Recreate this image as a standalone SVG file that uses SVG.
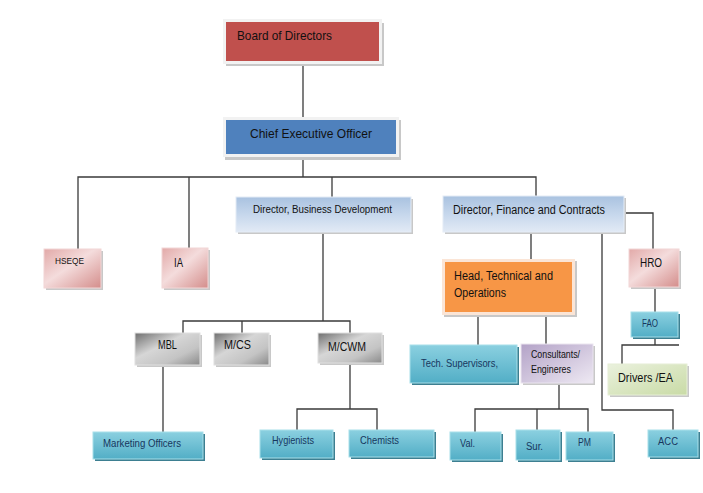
<svg xmlns="http://www.w3.org/2000/svg" width="703" height="493" viewBox="0 0 703 493">
<defs>
<linearGradient id="gBlue" x1="0" y1="0" x2="0" y2="1"><stop offset="0" stop-color="#a9c2e0"/><stop offset="0.5" stop-color="#c6d7ec"/><stop offset="1" stop-color="#e2eaf5"/></linearGradient>
<linearGradient id="gPink" x1="0" y1="0" x2="1" y2="1"><stop offset="0" stop-color="#e2a9a8"/><stop offset="0.45" stop-color="#f4dcdc"/><stop offset="1" stop-color="#d48d8b"/></linearGradient>
<linearGradient id="gGray" x1="0" y1="0" x2="1" y2="1"><stop offset="0" stop-color="#6f6f6f"/><stop offset="0.4" stop-color="#d6d6d6"/><stop offset="0.7" stop-color="#c4c4c4"/><stop offset="1" stop-color="#8a8a8a"/></linearGradient>
<linearGradient id="gTeal" x1="0" y1="0" x2="0" y2="1"><stop offset="0" stop-color="#8bd0e0"/><stop offset="1" stop-color="#52aec6"/></linearGradient>
<linearGradient id="gLav" x1="0" y1="0" x2="1" y2="1"><stop offset="0" stop-color="#b3a2c7"/><stop offset="1" stop-color="#eee9f3"/></linearGradient>
<linearGradient id="gGreen" x1="0" y1="0" x2="1" y2="1"><stop offset="0" stop-color="#eaf1dd"/><stop offset="1" stop-color="#c9dba6"/></linearGradient>
</defs>
<style>
text{font-family:"Liberation Sans",Arial,sans-serif;fill:#111;}
.sh{fill:#c8c8c8;}
.tsh{fill:#3d7f91;}
.teal{fill:url(#gTeal);stroke:#a8dfe9;stroke-width:1;}
.blue{fill:url(#gBlue);stroke:#e4ecf6;stroke-width:1;}
.pink{fill:url(#gPink);stroke:#f2d6d6;stroke-width:1;}
.gray{fill:url(#gGray);stroke:#e0e0e0;stroke-width:1;}
.tt{fill:#17375e;}
.c path,.c line{stroke:#3a3a3a;stroke-width:1.3;fill:none;}
</style>
<rect width="703" height="493" fill="#ffffff"/>
<g class="c" id="connectors">
<line x1="303" y1="63" x2="303" y2="117"/>
<line x1="303" y1="157" x2="303" y2="177"/>
<path d="M78 249V177H536V196"/>
<line x1="189" y1="177" x2="189" y2="249"/>
<line x1="332" y1="177" x2="332" y2="197"/>
<path d="M323 232V321"/>
<path d="M183 333V321H350V333"/>
<line x1="242" y1="321" x2="242" y2="333"/>
<line x1="163" y1="365" x2="163" y2="432"/>
<path d="M350 363V409"/>
<path d="M297 430V409H377V430"/>
<line x1="531" y1="232" x2="531" y2="259"/>
<path d="M624 213H653V249"/>
<path d="M602 232V410H673V430"/>
<line x1="655" y1="287" x2="655" y2="312"/>
<path d="M655 337V345"/>
<path d="M622 364V345H679"/>
<line x1="478" y1="315" x2="478" y2="345"/>
<line x1="546" y1="315" x2="546" y2="344"/>
<path d="M559 383V409"/>
<path d="M475 432V409H588V432"/>
<line x1="537" y1="409" x2="537" y2="430"/>
</g>
<g id="board">
<rect class="sh" x="226" y="23" width="158" height="43"/>
<rect x="224.5" y="20.5" width="156" height="42" fill="#c0504d" stroke="#f2f2f2" stroke-width="3"/>
<text x="237" y="40" font-size="13" textLength="95" lengthAdjust="spacingAndGlyphs">Board of Directors</text>
</g>
<g id="ceo">
<rect class="sh" x="225" y="120" width="176" height="40"/>
<rect x="224.5" y="118.5" width="173" height="37" fill="#4f81bd" stroke="#f2f2f2" stroke-width="3"/>
<text x="250" y="138" font-size="13.5" textLength="122" lengthAdjust="spacingAndGlyphs">Chief Executive Officer</text>
</g>
<g id="dir-bd">
<rect class="sh" x="238" y="199" width="175" height="35"/>
<rect class="blue" x="236" y="197" width="175" height="35"/>
<text x="253" y="213" font-size="11.5" textLength="139" lengthAdjust="spacingAndGlyphs">Director, Business Development</text>
</g>
<g id="dir-fc">
<rect class="sh" x="445" y="198" width="181" height="36"/>
<rect class="blue" x="443" y="196" width="181" height="36"/>
<text x="453" y="214" font-size="12.5" textLength="152" lengthAdjust="spacingAndGlyphs">Director, Finance and Contracts</text>
</g>
<g id="hseqe">
<rect class="sh" x="46" y="251" width="57" height="39"/>
<rect class="pink" x="44" y="249" width="57" height="39"/>
<text x="55" y="264" font-size="9.5" textLength="29" lengthAdjust="spacingAndGlyphs">HSEQE</text>
</g>
<g id="ia">
<rect class="sh" x="164" y="250" width="46" height="40"/>
<rect class="pink" x="162" y="248" width="46" height="40"/>
<text x="174" y="267" font-size="13" textLength="9" lengthAdjust="spacingAndGlyphs">IA</text>
</g>
<g id="hro">
<rect class="sh" x="631" y="251" width="50" height="38"/>
<rect class="pink" x="629" y="249" width="50" height="38"/>
<text x="640" y="267" font-size="12" textLength="22" lengthAdjust="spacingAndGlyphs">HRO</text>
</g>
<g id="head-tech">
<rect class="sh" x="444" y="261" width="133" height="56"/>
<rect x="443.5" y="260.5" width="130" height="53" fill="#f79646" stroke="#fbe5d6" stroke-width="3"/>
<text x="454" y="280" font-size="12.5" textLength="99" lengthAdjust="spacingAndGlyphs">Head, Technical and</text>
<text x="454" y="297" font-size="12.5" textLength="52" lengthAdjust="spacingAndGlyphs">Operations</text>
</g>
<g id="mbl">
<rect class="sh" x="137" y="335" width="65" height="32"/>
<rect class="gray" x="135" y="333" width="65" height="32"/>
<text x="158" y="349" font-size="12" textLength="19" lengthAdjust="spacingAndGlyphs">MBL</text>
</g>
<g id="mcs">
<rect class="sh" x="216" y="335" width="55" height="32"/>
<rect class="gray" x="214" y="333" width="55" height="32"/>
<text x="224" y="349" font-size="12" textLength="27" lengthAdjust="spacingAndGlyphs">M/CS</text>
</g>
<g id="mcwm">
<rect class="sh" x="320" y="335" width="64" height="30"/>
<rect class="gray" x="318" y="333" width="64" height="30"/>
<text x="328" y="351" font-size="12" textLength="38" lengthAdjust="spacingAndGlyphs">M/CWM</text>
</g>
<g id="fao">
<rect class="tsh" x="633" y="314" width="47" height="25"/>
<rect class="teal" x="631" y="312" width="47" height="25"/>
<text class="tt" x="642" y="327" font-size="10" textLength="16" lengthAdjust="spacingAndGlyphs">FAO</text>
</g>
<g id="drivers">
<rect class="sh" x="610" y="366" width="79" height="31"/>
<rect x="608" y="364" width="79" height="31" fill="url(#gGreen)" stroke="#e6eed6" stroke-width="1"/>
<text x="618" y="382" font-size="13" textLength="55" lengthAdjust="spacingAndGlyphs">Drivers /EA</text>
</g>
<g id="tech-sup">
<rect class="tsh" x="412" y="347" width="107" height="38"/>
<rect class="teal" x="410" y="345" width="107" height="38"/>
<text class="tt" x="421" y="367" font-size="10.5" textLength="77" lengthAdjust="spacingAndGlyphs">Tech. Supervisors,</text>
</g>
<g id="consultants">
<rect class="sh" x="523" y="346" width="72" height="39"/>
<rect x="521" y="344" width="72" height="39" fill="url(#gLav)" stroke="#ebe5f0" stroke-width="1"/>
<text x="531" y="358" font-size="10.5" textLength="49" lengthAdjust="spacingAndGlyphs">Consultants/</text>
<text x="531" y="373" font-size="10.5" textLength="40" lengthAdjust="spacingAndGlyphs">Engineres</text>
</g>
<g id="marketing">
<rect class="tsh" x="95" y="434" width="110" height="27"/>
<rect class="teal" x="93" y="432" width="110" height="27"/>
<text class="tt" x="103" y="447" font-size="11.5" textLength="78" lengthAdjust="spacingAndGlyphs">Marketing Officers</text>
</g>
<g id="hygienists">
<rect class="tsh" x="262" y="432" width="73" height="28"/>
<rect class="teal" x="260" y="430" width="73" height="28"/>
<text class="tt" x="272" y="444" font-size="10.5" textLength="42" lengthAdjust="spacingAndGlyphs">Hygienists</text>
</g>
<g id="chemists">
<rect class="tsh" x="351" y="432" width="85" height="27"/>
<rect class="teal" x="349" y="430" width="85" height="27"/>
<text class="tt" x="360" y="444" font-size="10.5" textLength="39" lengthAdjust="spacingAndGlyphs">Chemists</text>
</g>
<g id="val">
<rect class="tsh" x="452" y="434" width="51" height="28"/>
<rect class="teal" x="450" y="432" width="51" height="28"/>
<text class="tt" x="460" y="447" font-size="10" textLength="15" lengthAdjust="spacingAndGlyphs">Val.</text>
</g>
<g id="sur">
<rect class="tsh" x="518" y="432" width="44" height="30"/>
<rect class="teal" x="516" y="430" width="44" height="30"/>
<text class="tt" x="526" y="450" font-size="10" textLength="17" lengthAdjust="spacingAndGlyphs">Sur.</text>
</g>
<g id="pm">
<rect class="tsh" x="568" y="434" width="47" height="28"/>
<rect class="teal" x="566" y="432" width="47" height="28"/>
<text class="tt" x="578" y="446" font-size="10" textLength="13" lengthAdjust="spacingAndGlyphs">PM</text>
</g>
<g id="acc">
<rect class="tsh" x="650" y="432" width="50" height="27"/>
<rect class="teal" x="648" y="430" width="50" height="27"/>
<text class="tt" x="658" y="445" font-size="10" textLength="20" lengthAdjust="spacingAndGlyphs">ACC</text>
</g>
</svg>
